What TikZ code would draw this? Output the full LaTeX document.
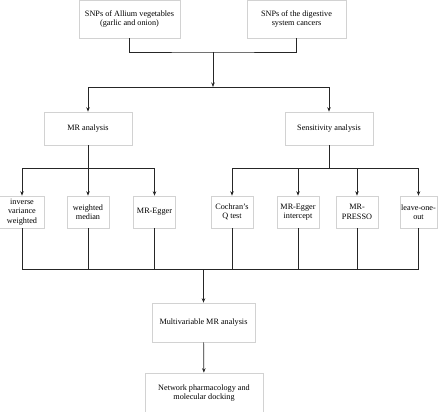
\documentclass[tikz,border=0pt]{standalone}
\usepackage{fontspec}
\setmainfont{Liberation Serif}
\usepackage{tikz}
\usetikzlibrary{arrows.meta, positioning}
\tikzstyle{box} = [rectangle, draw=gray!35, line width=0.6pt, fill=white, align=center, inner sep=1pt, font=\fontsize{8.2}{9.6}\selectfont]
\tikzstyle{leaf} = [box, minimum width=42pt, minimum height=32pt]
\tikzstyle{line} = [line width=0.7pt, draw=black!85]
\tikzstyle{arrow} = [line, -{Stealth[length=4.5pt, width=3.5pt]}]

\begin{document}
\begin{tikzpicture}[x=1pt, y=-1pt]
    \useasboundingbox (0,0) rectangle (440,412);
    % Top row
    \node[box, minimum width=101pt, minimum height=38pt] (allium) at (129.5,19) {SNPs of Allium vegetables\\(garlic and onion)};
    \node[box, minimum width=99pt, minimum height=38pt] (cancer) at (296.5,19) {SNPs of the digestive\\system cancers};
    % Second row
    \node[box, minimum width=88pt, minimum height=33pt] (mr) at (88,128.5) {MR analysis};
    \node[box, minimum width=88pt, minimum height=33pt] (sens) at (329,128.5) {Sensitivity analysis};
    % Methods
    \node[leaf, minimum width=45pt] (ivw) at (22,212) {inverse\\variance\\weighted};
    \node[leaf] (wm) at (88,212) {weighted\\median};
    \node[leaf] (egger) at (154.5,212) {MR-Egger};
    \node[leaf] (cochran) at (232,212) {Cochran's\\Q test};
    \node[leaf] (intercept) at (298,212) {MR-Egger\\intercept};
    \node[leaf] (presso) at (357,212) {MR-\\PRESSO};
    \node[leaf, minimum width=37pt] (loo) at (418.5,212) {leave-one-\\out};
    % Bottom
    \node[box, minimum width=103pt, minimum height=39pt] (mva) at (203.5,322.5) {Multivariable MR analysis};
    \node[box, minimum width=118pt, minimum height=40pt] (network) at (204,393) {Network pharmacology and\\molecular docking};

    % Junctions
    \coordinate (join) at (213,52);
    \coordinate (split) at (213,87);
    \coordinate (mrsplit) at (88,168);
    \coordinate (senssplit) at (329,168);
    \coordinate (merge) at (203.5,269);

    % Connectors
    \draw[line] (allium) |- (join) -| (cancer);
    \draw[arrow] (join) -- (split);
    \draw[arrow] (split) -| (mr);
    \draw[arrow] (split) -| (sens);
    \draw[line] (mr) -- (mrsplit);
    \draw[arrow] (mrsplit) -| (ivw);
    \draw[arrow] (mrsplit) -- (wm);
    \draw[arrow] (mrsplit) -| (egger);
    \draw[line] (sens) -- (senssplit);
    \draw[arrow] (senssplit) -| (cochran);
    \draw[arrow] (senssplit) -| (intercept);
    \draw[arrow] (senssplit) -| (presso);
    \draw[arrow] (senssplit) -| (loo);
    \foreach \m in {ivw, wm, egger, cochran, intercept, presso, loo}
        \draw[line] (\m) |- (merge);
    \draw[arrow] (merge) -- (mva);
    \draw[arrow] (mva) -- (network);
\end{tikzpicture}
\end{document}
